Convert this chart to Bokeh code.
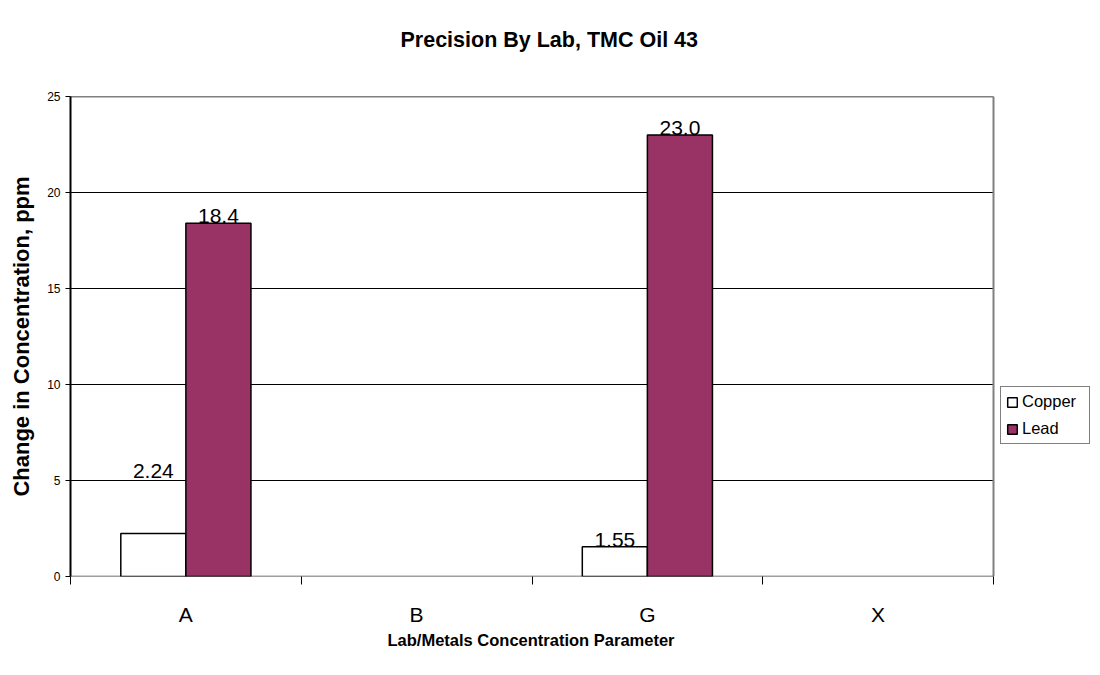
from bokeh.plotting import figure
from bokeh.models import ColumnDataSource, FixedTicker, Range1d, Legend, LegendItem, Title
from bokeh.transform import dodge
from bokeh.embed import file_html
from bokeh.resources import INLINE

labs = ["A", "B", "G", "X"]
copper = [2.24, None, 1.55, None]
lead = [18.4, None, 23.0, None]
copper_labels = ["2.24", "", "1.55", ""]
lead_labels = ["18.4", "", "23.0", ""]
copper_label_lift = [2.9, 0, 0, 0]
y_ticks = [0, 5, 10, 15, 20, 25]

FONT = "Liberation Sans"
PURPLE = "#993366"

# layout (pixels)
W, H = 1095, 660
LEFT, TOP, BOTTOM = 70, 96, 84
PLOT_RIGHT = 993          # right edge of the plotting area
FRAME_RIGHT = 1092        # frame extends under the legend

n = len(labs)
xmax = n * (FRAME_RIGHT - LEFT) / (PLOT_RIGHT - LEFT)

xpos = [i + 0.5 for i in range(n)]
nan = float("nan")
src = ColumnDataSource(dict(
    x=xpos,
    copper=[v if v is not None else nan for v in copper],
    lead=[v if v is not None else nan for v in lead],
    cl=copper_labels,
    ll=lead_labels,
    cly=[(v if v is not None else 0) + l for v, l in zip(copper, copper_label_lift)],
    lly=[v if v is not None else 0 for v in lead],
))
ymax = y_ticks[-1]

p = figure(width=W, height=H, output_backend="svg", toolbar_location=None,
           x_range=Range1d(0, xmax), y_range=Range1d(0, ymax),
           min_border_left=LEFT, min_border_right=W - FRAME_RIGHT,
           min_border_top=TOP, min_border_bottom=BOTTOM,
           title="Precision By Lab, TMC Oil 43")
p.background_fill_color = "white"
p.border_fill_color = "white"
p.outline_line_color = None
p.xgrid.grid_line_color = None
p.ygrid.grid_line_color = None

p.title.text_font = FONT
p.title.text_font_size = "21.5px"
p.title.text_font_style = "bold"
p.title.text_color = "black"
p.title.align = "left"
p.title.offset = 330
p.title.standoff = 0
# spacer between the title and the plot area
p.add_layout(Title(text=" ", text_font_size="1px", standoff=42), "above")

# gridlines across the plotting area only
p.segment(x0=0, x1=n, y0=y_ticks[1:], y1=y_ticks[1:], line_color="black", line_width=1)
# plot-area border (top & right, grey)
p.segment(x0=[0, n], x1=[n, n], y0=[ymax, 0], y1=[ymax, ymax], line_color="#808080", line_width=2)
# category axis line
p.segment(x0=[0], x1=[n], y0=[0], y1=[0], line_color="#404040", line_width=1.5)

w = 0.282
r1 = p.vbar(x=dodge("x", -w / 2), top="copper", width=w, bottom=0, source=src,
            fill_color="white", line_color="black", line_width=1.5)
r2 = p.vbar(x=dodge("x", w / 2), top="lead", width=w, bottom=0, source=src,
            fill_color=PURPLE, line_color="black", line_width=1.5)

p.text(x=dodge("x", -w / 2), y="cly", text="cl", source=src, text_align="center",
       text_baseline="bottom", text_font_size="21px", y_offset=0, text_color="black",
       text_font={"value": FONT})
p.text(x=dodge("x", w / 2), y="lly", text="ll", source=src, text_align="center",
       text_baseline="bottom", text_font_size="21px", y_offset=0, text_color="black",
       text_font={"value": FONT})

# y axis
p.yaxis.ticker = FixedTicker(ticks=y_ticks)
p.yaxis.axis_label = "Change in Concentration, ppm"
p.yaxis.axis_label_text_font = FONT
p.yaxis.axis_label_text_font_size = "22px"
p.yaxis.axis_label_text_font_style = "bold"
p.yaxis.axis_label_text_color = "black"
p.yaxis.axis_label_standoff = 10
p.yaxis.major_label_text_font = FONT
p.yaxis.major_label_text_font_size = "12px"
p.yaxis.major_label_text_color = "black"
p.yaxis.major_tick_out = 5
p.yaxis.major_tick_in = 0
p.yaxis.minor_tick_line_color = None
p.yaxis.axis_line_color = "black"
p.yaxis.axis_line_width = 2

# x axis
p.xaxis.ticker = FixedTicker(ticks=xpos, minor_ticks=list(range(n + 1)))
p.xaxis.major_label_overrides = {x: l for x, l in zip(xpos, labs)}
p.xaxis.major_tick_line_color = None
p.xaxis.minor_tick_out = 8
p.xaxis.minor_tick_in = 0
p.xaxis.minor_tick_line_color = "black"
p.xaxis.axis_line_color = None
p.xaxis.major_label_standoff = 18
p.xaxis.major_label_text_font = FONT
p.xaxis.major_label_text_font_size = "21px"
p.xaxis.major_label_text_color = "black"

# x-axis title, centred under the plotting area
p.add_layout(Title(text="Lab/Metals Concentration Parameter", text_font=FONT,
                   text_font_size="16.5px", text_font_style="bold", text_color="black",
                   align="left", offset=317, standoff=0), "below")

legend = Legend(items=[LegendItem(label="Copper", renderers=[r1]),
                       LegendItem(label="Lead", renderers=[r2])],
                location=(1000 - LEFT, 132))
legend.label_text_font = FONT
legend.label_text_font_size = "16.5px"
legend.label_text_color = "black"
legend.label_width = 62
legend.glyph_width = 12
legend.glyph_height = 12
legend.label_standoff = 4
legend.spacing = 8
legend.padding = 5
legend.margin = 0
legend.border_line_color = "black"
legend.border_line_width = 1
legend.background_fill_color = "white"
p.add_layout(legend, "center")

open("out.html", "w").write(file_html(p, INLINE))
